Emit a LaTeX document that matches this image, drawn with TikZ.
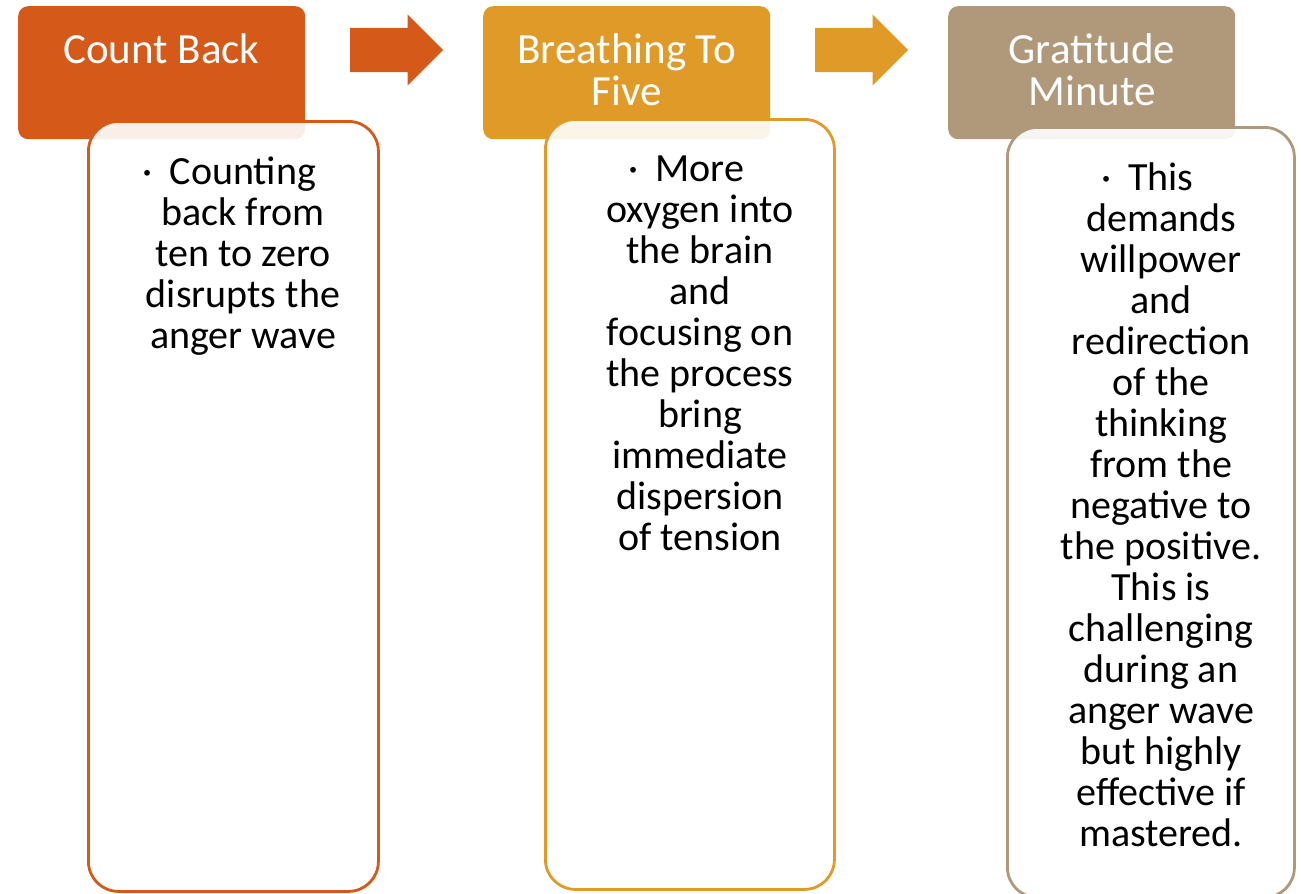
\documentclass[tikz,border=0pt]{standalone}
\usepackage{fontspec}
\setmainfont{Carlito}
\usetikzlibrary{shapes.arrows}
\definecolor{rust}{RGB}{213,89,24}
\definecolor{amber}{RGB}{224,154,40}
\definecolor{taupe}{RGB}{176,153,122}
\newcommand{\hangdot}{\llap{·\hspace{17bp}}}
\tikzset{
  header/.style={fill=#1, rounded corners=10bp, inner sep=0pt,
    minimum width=287bp, minimum height=133bp, anchor=north west},
  body/.style={draw=#1, line width=2.8bp, fill=white, fill opacity=0.9,
    rounded corners=30bp, inner sep=0pt, anchor=north west, minimum height=770bp},
  htext/.style={text=white, align=center, anchor=base, inner sep=0pt,
    font=\fontsize{43bp}{42bp}\selectfont},
  btext/.style={text=black, align=center, anchor=base, inner sep=0pt,
    font=\fontsize{40bp}{41bp}\selectfont},
  blockarrow/.style={single arrow, fill=#1, inner sep=0pt, inner ysep=22bp,
    minimum height=93bp, single arrow head extend=13.5bp, anchor=west}
}
\begin{document}
\begin{tikzpicture}[x=1bp, y=-1bp]
\useasboundingbox (0,0) rectangle (1301,893);
% header tabs
\node[header=rust]  (h1) at (18,6)  {};
\node[header=amber] (h2) at (483,6) {};
\node[header=taupe] (h3) at (948,6) {};
% header titles (base anchor sits on the last line)
\node[htext] (l1) at (161.5,63) {Count Back};
\node[htext] (l2) at (626.5,105) {Breathing To\\Five};
\node[htext] (l3) at (1092,105) {Gratitude\\Minute};
% block arrows between steps
\node[blockarrow=rust]  (a1) at (350,50) {};
\node[blockarrow=amber] (a2) at (815,50) {};
% body panels
\node[body=rust,  minimum width=290bp] (b1) at (87,120)  {};
\node[body=amber, minimum width=289bp] (b2) at (544,118) {};
\node[body=taupe, minimum width=287bp] (b3) at (1006,126) {};
% panel texts (base anchor sits on the last line)
\node[btext] (t1) at (243,348) {\hangdot Counting\\back from\\ten to zero\\disrupts the\\anger wave};
\node[btext] (t2) at (700,550) {\hangdot More\\oxygen into\\the brain\\and\\focusing on\\the process\\bring\\immediate\\dispersion\\of tension};
\node[btext] (t3) at (1161,846) {\hangdot This\\demands\\willpower\\and\\redirection\\of the\\thinking\\from the\\negative to\\the positive.\\This is\\challenging\\during an\\anger wave\\but highly\\effective if\\mastered.};
\end{tikzpicture}
\end{document}
